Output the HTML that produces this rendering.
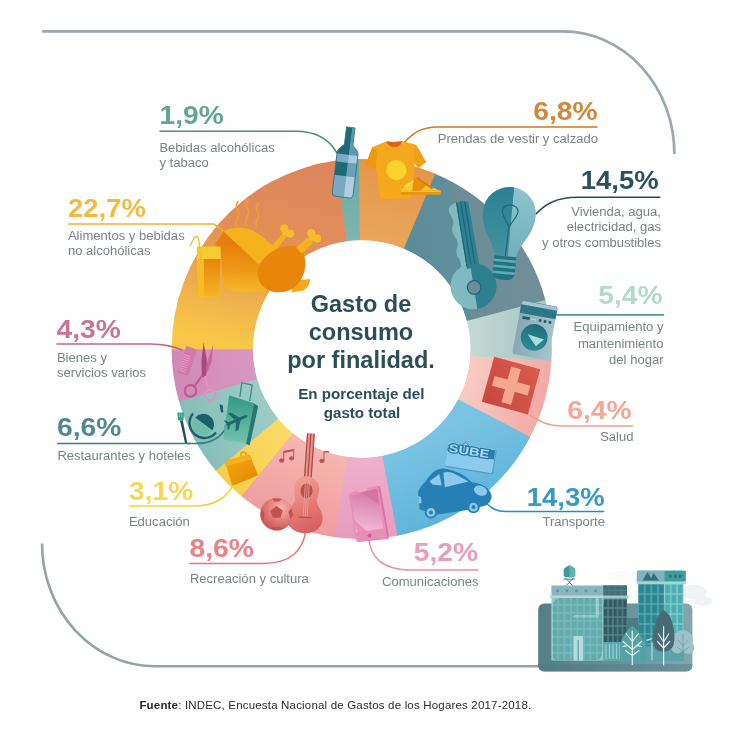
<!DOCTYPE html>
<html lang="es">
<head>
<meta charset="utf-8">
<title>Gasto de consumo por finalidad</title>
<style>
html,body{margin:0;padding:0;background:#fff;}
body{width:730px;height:730px;overflow:hidden;font-family:"Liberation Sans",Arial,sans-serif;}
svg{display:block;}
.num{font-family:"Liberation Sans",Arial,sans-serif;font-weight:700;font-size:26.600px;}
.lbl{font-family:"Liberation Sans",Arial,sans-serif;font-weight:400;font-size:13.05px;fill:#7b8386;}
.ttl{font-family:"Liberation Sans",Arial,sans-serif;font-weight:700;font-size:23.5px;fill:#2b4f56;}
.sub{font-family:"Liberation Sans",Arial,sans-serif;font-weight:700;font-size:15.150px;fill:#2b4f56;}
.src{font-family:"Liberation Sans",Arial,sans-serif;font-size:11.5px;fill:#2a2a2a;}
.ln{fill:none;stroke-width:1.6;stroke-linecap:round;}
</style>
</head>
<body>
<svg width="730" height="730" viewBox="0 0 730 730">
<defs>
<linearGradient id="g_s227" gradientUnits="userSpaceOnUse" x1="300" y1="160" x2="255" y2="349"><stop offset="0" stop-color="#dd845d"/><stop offset="0.42" stop-color="#e28f57"/><stop offset="0.72" stop-color="#eeab4d"/><stop offset="1" stop-color="#f8c848"/></linearGradient>
<linearGradient id="g_s19" gradientUnits="userSpaceOnUse" x1="350" y1="160" x2="352" y2="240"><stop offset="0" stop-color="#6aa9a1"/><stop offset="1" stop-color="#7fb6ad"/></linearGradient>
<linearGradient id="g_s68" gradientUnits="userSpaceOnUse" x1="400" y1="160" x2="380" y2="245"><stop offset="0" stop-color="#e3954a"/><stop offset="1" stop-color="#eaa65c"/></linearGradient>
<linearGradient id="g_s145" gradientUnits="userSpaceOnUse" x1="409.600" y1="252.900" x2="508.400" y2="237.100"><stop offset="0" stop-color="#5b8c99"/><stop offset="0.480" stop-color="#5f8f9b"/><stop offset="0.520" stop-color="#6c8d96"/><stop offset="1" stop-color="#6f8e96"/></linearGradient>
<linearGradient id="g_s54" gradientUnits="userSpaceOnUse" x1="470" y1="330" x2="552" y2="330"><stop offset="0" stop-color="#c3d9d5"/><stop offset="1" stop-color="#a3c4c1"/></linearGradient>
<linearGradient id="g_s64" gradientUnits="userSpaceOnUse" x1="465" y1="380" x2="545" y2="400"><stop offset="0" stop-color="#f8cbc3"/><stop offset="1" stop-color="#f2aaa4"/></linearGradient>
<linearGradient id="g_s143" gradientUnits="userSpaceOnUse" x1="430" y1="430" x2="470" y2="520"><stop offset="0" stop-color="#7cc4e3"/><stop offset="1" stop-color="#5cb2da"/></linearGradient>
<linearGradient id="g_s52" gradientUnits="userSpaceOnUse" x1="362" y1="458" x2="362" y2="540"><stop offset="0" stop-color="#eeb0cb"/><stop offset="1" stop-color="#e79bbd"/></linearGradient>
<linearGradient id="g_s86" gradientUnits="userSpaceOnUse" x1="320" y1="450" x2="290" y2="530"><stop offset="0" stop-color="#f5b6b0"/><stop offset="1" stop-color="#ee9a9c"/></linearGradient>
<linearGradient id="g_s31" gradientUnits="userSpaceOnUse" x1="280" y1="420" x2="225" y2="480"><stop offset="0" stop-color="#fadb66"/><stop offset="1" stop-color="#f6cf4c"/></linearGradient>
<linearGradient id="g_s66" gradientUnits="userSpaceOnUse" x1="260" y1="400" x2="185" y2="430"><stop offset="0" stop-color="#9ccbc6"/><stop offset="1" stop-color="#84bdb8"/></linearGradient>
<linearGradient id="g_s43" gradientUnits="userSpaceOnUse" x1="255" y1="365" x2="172" y2="375"><stop offset="0" stop-color="#d897be"/><stop offset="1" stop-color="#d08ab5"/></linearGradient>
</defs>
<rect width="730" height="730" fill="#fff"/>
<!-- frame -->
<path d="M42.200 31.400H563A111.400 122.600 0 0 1 674.400 154" fill="none" stroke="#9ca8af" stroke-width="2.700"/>
<path d="M42 543.5A113 123 0 0 0 155 666.300H545" fill="none" stroke="#96a3a5" stroke-width="2.600"/>
<!-- donut -->
<g>
<path class="s68" fill="url(#g_s68)" d="M357.88 158.94A190.1 190.1 0 0 1 436.13 174.08L404.28 248.93A108.75 108.75 0 0 0 359.52 240.27Z"/>
<path class="s145" fill="url(#g_s145)" d="M435.21 173.69A190.1 190.1 0 0 1 545.62 300.92L466.91 321.50A108.75 108.75 0 0 0 403.75 248.71Z"/>
<path class="s54" fill="url(#g_s54)" d="M545.37 299.96A190.1 190.1 0 0 1 551.35 362.10L470.19 356.49A108.75 108.75 0 0 0 466.77 320.95Z"/>
<path class="s64" fill="url(#g_s64)" d="M551.41 361.10A190.1 190.1 0 0 1 529.78 437.81L457.85 399.80A108.75 108.75 0 0 0 470.23 355.92Z"/>
<path class="s143" fill="url(#g_s143)" d="M530.24 436.93A190.1 190.1 0 0 1 396.51 535.89L381.61 455.91A108.75 108.75 0 0 0 458.12 399.30Z"/>
<path class="s52" fill="url(#g_s52)" d="M397.48 535.70A190.1 190.1 0 0 1 334.09 537.08L345.91 456.60A108.75 108.75 0 0 0 382.17 455.81Z"/>
<path class="s86" fill="url(#g_s86)" d="M335.08 537.23A190.1 190.1 0 0 1 240.65 495.58L292.45 432.85A108.75 108.75 0 0 0 346.47 456.68Z"/>
<path class="s31" fill="url(#g_s31)" d="M241.42 496.21A190.1 190.1 0 0 1 215.12 470.05L277.85 418.25A108.75 108.75 0 0 0 292.89 433.22Z"/>
<path class="s66" fill="url(#g_s66)" d="M215.76 470.81A190.1 190.1 0 0 1 178.74 400.60L257.03 378.52A108.75 108.75 0 0 0 278.21 418.68Z"/>
<path class="s43" fill="url(#g_s43)" d="M179.01 401.56A190.1 190.1 0 0 1 171.60 348.50L252.95 348.72A108.75 108.75 0 0 0 257.19 379.07Z"/>
<path class="s227" fill="url(#g_s227)" d="M171.60 349.50A190.1 190.1 0 0 1 336.39 160.59L347.22 241.22A108.75 108.75 0 0 0 252.95 349.28Z"/>
<path class="s19" fill="url(#g_s19)" d="M335.41 160.73A190.1 190.1 0 0 1 358.88 158.92L360.09 240.26A108.75 108.75 0 0 0 346.66 241.30Z"/>
</g>
<circle cx="361.700" cy="349" r="108.500" fill="#fff"/>
<!-- connector lines -->
<path class="ln" stroke="#42907f" d="M160 131.300H296C316 131.300 329 139 337 153"/>
<path class="ln" stroke="#efb32b" d="M68.500 224H214L223 231"/>
<path class="ln" stroke="#c2648e" d="M57 344H150C166 344 174 347 182 350"/>
<path class="ln" stroke="#3a7d84" d="M58 443.500H190" stroke-width="1.800"/><path class="ln" stroke="#3a7d84" d="M188 443.500H196C212 443.500 221 437 226 428" stroke-width="1.100"/>
<path class="ln" stroke="#f2d43c" d="M129.5 506H195C215 506 226 498 233 485.500"/>
<path class="ln" stroke="#e8737a" d="M190 563.5H262C292 563.5 303 550 306 530"/>
<path class="ln" stroke="#e592b4" d="M478 570H412C381 570 371 557 368.500 538"/>
<path class="ln" stroke="#1f8fc1" d="M603.5 511.5H506C496 511.5 491.500 508 486.500 503.500"/>
<path class="ln" stroke="#f0a08a" d="M632.500 426H562C548 426 540 421.500 530.500 415.500"/>
<path class="ln" stroke="#4d9b8c" d="M663.500 314.900H556" stroke-width="1.800"/>
<path class="ln" stroke="#1f4e5a" d="M659.800 197.300H578C556 197.300 545 204 536 214"/>
<path class="ln" stroke="#d07822" d="M597 127H438C420 127 412 134 404 143"/>
<!-- ===== bottle ===== -->
<g transform="translate(350.8,127.4) rotate(7)">
  <clipPath id="cpBottle"><path d="M-4.3 0H4.3V16.5C4.3 20 10.5 20.5 10.5 27V66.5Q10.5 70.2 7 70.2H-7Q-10.5 70.2 -10.5 66.5V27C-10.5 20.5 -4.3 20 -4.3 16.5Z"/></clipPath>
  <g clip-path="url(#cpBottle)">
    <rect x="-11" y="-1" width="13" height="72" fill="#1f6a78"/>
    <rect x="1.5" y="-1" width="10" height="72" fill="#5d9bb0"/>
    <rect x="-11" y="27.5" width="13" height="8" fill="#7eaac4"/>
    <rect x="1.5" y="27.5" width="10" height="8" fill="#a9cbe0"/>
    <rect x="1.5" y="35.5" width="10" height="13.5" fill="#6d9fb6"/>
    <rect x="-11" y="49" width="13" height="22" fill="#7ba9c4"/>
    <rect x="1.5" y="49" width="10" height="22" fill="#b0cce0"/>
  </g>
  <path d="M-4.3 0H4.3V16.5C4.3 20 10.5 20.5 10.5 27V66.5Q10.5 70.2 7 70.2H-7Q-10.5 70.2 -10.5 66.5V27C-10.5 20.5 -4.3 20 -4.3 16.5Z" fill="none" stroke="#2a7383" stroke-width="0.8"/>
</g>
<!-- ===== t-shirt + sandals ===== -->
<g>
  <path d="M386.5 141.3Q394 143 402 140.9L416.1 144.8L426 162L418 168.2L414.9 163L410.6 198.4L380.3 199L376 167.5L374.8 169.8L365.5 165.1L372.3 147.3Z" fill="#f5a81c"/>
  <path d="M372.3 147.3L365.5 165.1L374.8 169.8L376 167.5L377.2 150Z" fill="#ee9812"/>
  <path d="M416.1 144.8L426 162L418 168.2L414.9 163L413.6 149Z" fill="#f0a016"/>
  <path d="M386.5 141.3Q394 143 402 140.9Q400.5 147 394.3 147Q388 147 386.5 141.3Z" fill="#d8621c"/>
  <circle cx="396.4" cy="170.1" r="10.2" fill="#fbd22f"/>
  <!-- sandals -->
  <path d="M401 190.800H440.600Q441.600 192.800 440.400 194.800H401.300Q400.200 192.800 401 190.800Z" fill="#e8960f"/>
  <path d="M401 190.600H440.600V192H401Z" fill="#f8c224"/>
  <path d="M401 190.600L404.800 185.300L413.800 179.700L417.500 181.500L412.300 190.600Z" fill="#f9ca2c"/>
  <path d="M404.800 185.300L413.800 179.700L415.500 180.600L407 187.500Z" fill="#fbd94d"/>
  <path d="M413.800 179.300L417.800 177.200L427.200 184.600L420.500 190.600H412.300Z" fill="#e8900c"/>
  <path d="M420.600 190.600L426.900 185.100L439.800 190.600Z" fill="#f8c424"/>
  <path d="M417.800 177.200L433.500 188.400L431.500 189.200L416.500 178.200Z" fill="#d67d0a"/>
</g>
<!-- ===== chicken + juice ===== -->
<defs>
<linearGradient id="gChk" gradientUnits="userSpaceOnUse" x1="240" y1="245" x2="238" y2="292"><stop offset="0" stop-color="#e57f0c"/><stop offset="0.55" stop-color="#ee9a14"/><stop offset="1" stop-color="#f7b92a"/></linearGradient>
<linearGradient id="gJuice" gradientUnits="userSpaceOnUse" x1="210" y1="259" x2="210" y2="296"><stop offset="0" stop-color="#e4860e"/><stop offset="1" stop-color="#f6b424"/></linearGradient>
</defs>
<g>
  <!-- steam -->
  <g fill="none" stroke="#f0a028" stroke-width="1.700" stroke-linecap="round">
    <path d="M238 201.5q-3 4 -0.5 8t0 8t-1 8"/>
    <path d="M248 200q-3 4 -0.5 8t0 8t-1 8.5"/>
    <path d="M258 204q-3 4 -0.5 7.500t0 7.500t-1 7.500"/>
  </g>
  <!-- back drumstick -->
  <path d="M270.5 247L282.500 233.500L286.500 237L276 250Z" fill="#f6b21c"/>
  <circle cx="284.300" cy="228.400" r="4.100" fill="#f8bc28"/><circle cx="290" cy="233.600" r="4.100" fill="#f8bc28"/><circle cx="286" cy="232.500" r="3.600" fill="#f8bc28"/>
  <!-- body -->
  <path d="M214.900 244.700L223.600 231.200L259 263L266 291.600L243.700 291.600Q229 291.500 223 285.500L220.700 248Z" fill="url(#gChk)"/>
  <path d="M223.600 231.200Q244 221.500 262.900 237L277 250L258.300 264.200Z" fill="#f6b21c"/>
  <!-- tail -->
  <path d="M292.100 280.800L310.200 279.100Q309.500 287 303.600 290.600L292 292.500Z" fill="#f5a81a"/>
  <!-- thigh -->
  <path d="M301 248.200C310.500 262 304 292 279.500 292.300C261 292.500 253 276 260.500 263C268.500 249.500 289 241.500 301 248.200Z" fill="#e8860c"/>
  <!-- front drumstick -->
  <path d="M296 247.500L308 237.500L313 243L301.500 253.500Z" fill="#f6b21c"/>
  <circle cx="311.300" cy="233" r="4.100" fill="#f8bc28"/><circle cx="317" cy="238.500" r="4.100" fill="#f8bc28"/><circle cx="312.500" cy="238" r="3.600" fill="#f8bc28"/>
  <!-- glass -->
  <path d="M196.700 246.600H220.700L219.600 296.400H198.300Z" fill="#f9cb30"/>
  <path d="M203.500 259H220.400L219.600 296.400H204Z" fill="url(#gJuice)"/>
  <path d="M197.200 259H203.500L204 296.400H198.300Z" fill="#f7bd22"/>
  <path d="M201 262L198.800 240Q197.600 233.500 194 238.500L190 246" fill="none" stroke="#f5b830" stroke-width="1.300" stroke-linecap="round"/>
</g>
<!-- ===== key + bulb ===== -->
<defs>
<linearGradient id="gBulbL" x1="0" y1="0" x2="0" y2="1"><stop offset="0" stop-color="#2a8091"/><stop offset="1" stop-color="#4592a0"/></linearGradient>
<linearGradient id="gBulbR" x1="0" y1="0" x2="0" y2="1"><stop offset="0" stop-color="#8fc3cc"/><stop offset="1" stop-color="#6fb0ba"/></linearGradient>
<clipPath id="cpBulb"><path d="M-11 43C-11 31 -26.500 21 -26.500 0A26.500 26.500 0 1 1 26.500 0C26.500 21 11 31 11 43Z"/></clipPath>
<clipPath id="cpKey"><path fill-rule="evenodd" clip-rule="evenodd" d="M-6 -84.500Q1 -87 8.300 -84L9 -21A23 23 0 1 1 -9 -21L-9.300 -28Q-13.500 -34 -10 -41Q-7.500 -46 -10.300 -51Q-14 -57 -10.600 -63.500Q-8.300 -68 -10.800 -72.500Q-13.800 -78 -11 -81.500Q-9.500 -83.500 -6 -84.500ZM0.300 -5.300A6.800 6.800 0 1 0 0.300 8.300A6.800 6.800 0 1 0 0.300 -5.300Z"/></clipPath>
</defs>
<g transform="translate(473.600,286) rotate(-9.300)">
  <g clip-path="url(#cpKey)">
    <rect x="-26" y="-90" width="26" height="116" fill="#7fbac3"/>
    <rect x="-3.800" y="-90" width="32" height="116" fill="#2e8090"/>
    <rect x="-26" y="-18" width="26" height="45" fill="#7fbac3"/>
    <path d="M-3.300 -86V-20M0.800 -86V-22M4.800 -86V-22" stroke="#1c6574" stroke-width="1.200" fill="none"/>
  </g>
  <circle cx="0.300" cy="1.500" r="6.800" fill="none" stroke="#1f6a78" stroke-width="1.300"/>
</g>
<g transform="translate(509.300,213.500) rotate(5.300)">
  <g clip-path="url(#cpBulb)">
    <rect x="-27" y="-27" width="30" height="71" fill="url(#gBulbL)"/>
    <rect x="2.500" y="-27" width="25" height="71" fill="url(#gBulbR)"/>
  </g>
  <path d="M0 42.500L0.800 13C-3.500 6 -7 1.500 -7 -2C-7 -6.500 -3.500 -8.500 0.800 -8.500C5.100 -8.500 8.500 -6.500 8.500 -2C8.500 1.500 5.100 6 0.800 13" fill="none" stroke="#1f6a78" stroke-width="1.200"/>
  <path d="M-11 43H11V59Q11 66.500 3 66.500H-3Q-11 66.500 -11 59Z" fill="#1f7383"/>
  <path d="M-11 47.500H11M-11 53.500H11M-11 59.500H11" stroke="#62aab3" stroke-width="2.600" fill="none"/>
</g>
<!-- ===== health cross ===== -->
<defs>
<linearGradient id="gCross" x1="1" y1="0" x2="0" y2="1"><stop offset="0" stop-color="#d95c4e"/><stop offset="1" stop-color="#c7473f"/></linearGradient>
<linearGradient id="gWash" x1="0" y1="0" x2="1" y2="0"><stop offset="0" stop-color="#86a9b6"/><stop offset="1" stop-color="#a6c2cb"/></linearGradient>
</defs>
<g transform="translate(494.200,356.700) rotate(15.300)">
  <rect x="0" y="0" width="47.700" height="46.800" fill="url(#gCross)"/>
  <path d="M19 5H29V18.500H42.500V28.500H29V42H19V28.500H5.500V18.500H19Z" fill="#f4a78f"/>
</g>
<!-- ===== washing machine ===== -->
<defs><linearGradient id="gDoor" x1="0" y1="0" x2="0" y2="1"><stop offset="0" stop-color="#1d6f7c"/><stop offset="1" stop-color="#2f8a94"/></linearGradient></defs>
<g transform="translate(522,300.300) rotate(10.500)">
  <rect x="0" y="0" width="36.400" height="54.300" rx="2.600" fill="url(#gWash)"/>
  <path d="M0 12.600V2.600Q0 0 2.600 0H33.800Q36.400 0 36.400 2.600V12.600Z" fill="#2c7785"/>
  <path d="M0.300 4V2.600Q0.300 0.300 2.600 0.300H33.800Q36.100 0.300 36.100 2.600V4Z" fill="#a9c5cd"/>
  <rect x="3.500" y="15.200" width="7.500" height="2.800" fill="#1d5f6c"/>
  <rect x="12.500" y="16.200" width="5" height="1" fill="#c5d9de"/>
  <circle cx="21.500" cy="16.600" r="1.500" fill="#1d5f6c"/><circle cx="26.500" cy="16.600" r="1.500" fill="#1d5f6c"/><circle cx="31.500" cy="16.600" r="1.500" fill="#1d5f6c"/>
  <circle cx="18.700" cy="34.300" r="13.400" fill="url(#gDoor)"/>
  <path d="M11.700 32.400L28.800 34.600L22 42.600Z" fill="#a9dcdc"/>
</g>
<!-- ===== SUBE card + car ===== -->
<g transform="translate(448.600,441.500) rotate(9.200)">
  <rect x="0" y="0" width="49" height="25.500" rx="1.800" fill="#4d9fcb"/>
  <rect x="0" y="0" width="47.800" height="24.300" rx="1.500" fill="#8ccbeb"/>
  <rect x="41.500" y="1.200" width="6" height="9.300" fill="#2d7dad"/>
  <text x="1.200" y="10" font-family="'Liberation Sans',Arial,sans-serif" font-weight="700" font-size="11.200" textLength="41" lengthAdjust="spacingAndGlyphs" fill="#a9dbf2" stroke="#2a78a8" stroke-width="2.600" paint-order="stroke" stroke-linejoin="round">SUBE</text>
  <path d="M14 1.300L17.300 -2L20.600 1.300Z" fill="#a9dbf2" stroke="#2a78a8" stroke-width="0.700"/>
</g>
<g>
  <path d="M419.700 509.600L418.100 492.300Q419.500 487 424.700 482.500Q429 476 432.900 472.600Q437 469 442.700 468.500Q448 468.500 454.200 471Q461 473.500 465.800 476.700L472.300 482.500Q478 483 482.200 484.900Q488.500 487.500 490.400 492.300Q492.200 496 491.200 498.900Q489.500 503.500 485.500 505.500L470.700 509.600L437.800 514.500Z" fill="#2780b5"/>
  <path d="M429.600 481.200L439.300 474L441.700 485.600L432.500 484.500Z" fill="#8ccaea"/>
  <path d="M443.400 472.400Q449 471.500 454.200 473.400L468.500 481.400L444.800 487.200Z" fill="#8ccaea"/>
  <ellipse cx="480.500" cy="490.700" rx="6.800" ry="4.800" transform="rotate(22 480.500 490.700)" fill="#8ccaea"/>
  <path d="M418.400 496L421 497L421.500 503L419 503.500Z" fill="#8ccaea"/>
  <circle cx="430.900" cy="512.400" r="6.200" fill="#2780b5"/><circle cx="430.900" cy="512.400" r="4.300" fill="#8ccaea"/><circle cx="430.900" cy="512.400" r="2" fill="#2780b5"/>
  <circle cx="473.500" cy="507.100" r="6.200" fill="#2780b5"/><circle cx="473.500" cy="507.100" r="4.300" fill="#8ccaea"/><circle cx="473.500" cy="507.100" r="2" fill="#2780b5"/>
</g>
<!-- ===== guitar, ball, notes ===== -->
<defs>
<linearGradient id="gGuitar" gradientUnits="userSpaceOnUse" x1="-14" y1="-30" x2="14" y2="14"><stop offset="0" stop-color="#f09a90"/><stop offset="0.5" stop-color="#e47a74"/><stop offset="1" stop-color="#d25c5e"/></linearGradient>
<radialGradient id="gBall" gradientUnits="userSpaceOnUse" cx="281" cy="508" r="22"><stop offset="0" stop-color="#f6b9b0"/><stop offset="0.5" stop-color="#e58680"/><stop offset="1" stop-color="#cf5a5c"/></radialGradient>
</defs>
<g fill="#b9535b">
  <path d="M283.300 451L294.200 448.700V458.500A2.600 2.100 0 1 1 293.200 456.800V451.200L284.300 453.100V460.600A2.600 2.100 0 1 1 283.300 458.900Z"/>
  <path d="M323.500 451.500Q326.500 450 329.300 451.500V453Q326.500 451.700 324.500 453V461A2.600 2.100 0 1 1 323.500 459.300Z"/>
</g>
<g transform="translate(304.800,516.300) rotate(4)">
  <path d="M-3.600 -83H4.200V-38H-3.600Z" fill="#ea938b"/>
  <path d="M-3 -83V-38M0.300 -83V-38M3.600 -83V-38" stroke="#b04a4c" stroke-width="1.300" fill="none"/>
  <path d="M0 -40C8 -40 12.500 -34 12.500 -27.500C12.500 -20 9.500 -17.500 12 -12.500C14 -8.500 18 -5 18 2C18 11 10 17 0 17C-10 17 -18 11 -18 2C-18 -5 -14 -8.500 -12 -12.500C-9.500 -17.500 -12.500 -20 -12.500 -27.500C-12.500 -34 -8 -40 0 -40Z" fill="url(#gGuitar)"/>
  <ellipse cx="0" cy="-25.500" rx="6" ry="7.500" fill="#b9504f"/>
  <path d="M-1.700 -40V1M0.300 -40V1M2.300 -40V1" stroke="#f0a69c" stroke-width="0.700" fill="none"/>
  <path d="M-6.500 1H7" stroke="#b9504f" stroke-width="1.400" fill="none"/>
</g>
<g>
  <circle cx="276.700" cy="514.200" r="16.400" fill="url(#gBall)"/>
  <path d="M276.500 506L282.800 510.500L280.400 517.800H272.800L270.300 510.500Z" fill="#c8504f"/>
  <path d="M272 498.600L281.500 498.700L279 501.500H274.500Z" fill="#c8504f"/>
  <path d="M291.500 508L293 515.500L290.500 519L288.500 512Z" fill="#c8504f"/>
  <path d="M261.500 508.500L260.400 516L263.500 520.500L264.500 513Z" fill="#c8504f"/>
  <path d="M270 527L283 527.500L279.500 530.300H273.500Z" fill="#c8504f"/>
</g>
<!-- ===== phone ===== -->
<defs>
<linearGradient id="gPhone" gradientUnits="userSpaceOnUse" x1="372" y1="490" x2="364" y2="533"><stop offset="0" stop-color="#d676a8"/><stop offset="0.55" stop-color="#e79dc2"/><stop offset="1" stop-color="#f2bcd6"/></linearGradient>
</defs>
<g>
  <path d="M352.500 495.200L378.300 488.300L386.700 536.800L359.300 539.600Z" fill="#d673a7" stroke="#d673a7" stroke-width="4.400" stroke-linejoin="round"/>
  <path d="M350.900 495.200L376.300 487.900L385 536.600L358.300 539.600Z" fill="#e88fb8" stroke="#e88fb8" stroke-width="4.400" stroke-linejoin="round"/>
  <path d="M351.400 495.500L377 488.800L383.200 528.500L356 532.500Z" fill="url(#gPhone)"/>
  <path d="M362 492.700L377 488.800L379.500 505Z" fill="#cf6ba0" opacity="0.550"/>
  <path d="M353.500 519.500L368 532L358 534Z" fill="#e58ab5" opacity="0.800"/>
  <circle cx="369.500" cy="535.600" r="2" fill="#cc5c98"/>
  <path d="M359 491.300L367 489.100" stroke="#f3bdd6" stroke-width="0.900" stroke-linecap="round" fill="none"/>
</g>
<!-- ===== comb + scissors ===== -->
<g>
  <path d="M186.400 345.700L197.100 349.800L188.100 376.100L177.400 372.800Z" fill="#d27aab"/>
  <path d="M180 365.500l7 2.300M180.700 363.300l7 2.300M181.400 361.100l7 2.300M182.100 358.900l7 2.300M182.800 356.700l7 2.300M183.500 354.500l7 2.300M179.300 367.700l7 2.300M178.600 369.900l7 2.300" stroke="#e7a6cc" stroke-width="0.800" fill="none"/>
  <path d="M213.300 344.700L211.500 362L204.500 378.500L201.500 376L208 360Z" fill="#c968a0"/>
  <path d="M203.600 342.200L206.800 360L205.800 377L201.800 377L201.500 360Z" fill="#a8487c"/>
  <path d="M202.500 375L195 385.500" stroke="#c0588c" stroke-width="2" fill="none"/>
  <path d="M204.800 376L208.500 388.500" stroke="#e590bc" stroke-width="2" fill="none"/>
  <circle cx="190.500" cy="390.900" r="5.800" fill="none" stroke="#c0588c" stroke-width="2.100"/>
  <circle cx="210.300" cy="395" r="5.400" fill="none" stroke="#e590bc" stroke-width="2.100"/>
</g>
<!-- ===== plate, fork, knife ===== -->
<g>
  <path d="M177.400 412.500H184L183.500 420.500H178Z" fill="#3a9a8a"/>
  <path d="M179.500 412.500V417M181.700 412.500V417" stroke="#9ccbc6" stroke-width="0.700"/>
  <path d="M180 420.500L182.800 420.500L187.300 443L185 443Z" fill="#1f4f58"/>
  <circle cx="203.200" cy="424.800" r="10.800" fill="#6fbcaa"/>
  <path d="M195.200 417.500A10.800 10.800 0 0 1 212.500 430.300Z" fill="#1f5f68"/>
  <path d="M193 413.500A14 14 0 1 0 216 432.500" fill="none" stroke="#1f5f68" stroke-width="2.400"/>
  <path d="M219.500 404L222.800 405.500L223.300 412.300L221 412.500Z" fill="#1f5f68"/>
  <path d="M224.500 425.500L227 426L227.700 435.300L225.800 435.500Z" fill="#1f5f68"/>
</g>
<!-- ===== suitcase ===== -->
<defs><linearGradient id="gSuit" gradientUnits="userSpaceOnUse" x1="236" y1="397" x2="236" y2="442"><stop offset="0" stop-color="#359a84"/><stop offset="1" stop-color="#72c2ac"/></linearGradient></defs>
<g>
  <path d="M239.900 397L241.800 382.700L252.200 385.100L249.700 401" fill="none" stroke="#3a8a88" stroke-width="1.300"/>
  <path d="M253 404L257.100 406.500L248.900 444.300L245.600 441.900Z" fill="#28786f" stroke="#28786f" stroke-width="2" stroke-linejoin="round"/>
  <path d="M230 396.600L253 404L245.600 441.900L224.200 438.600Z" fill="url(#gSuit)" stroke="url(#gSuit)" stroke-width="2" stroke-linejoin="round"/>
  <g fill="#1f6a68" transform="translate(236.800,420.300) rotate(-23.700)">
    <path d="M-11.500 0Q-11.500 -1.500 -9 -1.500H7Q11 -1.300 12 0Q11 1.300 7 1.500H-9Q-11.500 1.500 -11.500 0Z"/>
    <path d="M4 -1L-2.500 -9.500H-5.500L-1.500 -1Z"/>
    <path d="M4 1L-2.500 9.500H-5.500L-1.500 1Z"/>
    <path d="M-7.500 -1L-10.500 -4.800H-12.300L-10.500 -1Z"/>
    <path d="M-7.500 1L-10.500 4.800H-12.300L-10.500 1Z"/>
  </g>
</g>
<!-- ===== education bag ===== -->
<defs><linearGradient id="gEdu" gradientUnits="userSpaceOnUse" x1="232" y1="460" x2="250" y2="482"><stop offset="0" stop-color="#f3a50e"/><stop offset="1" stop-color="#e68a06"/></linearGradient></defs>
<g>
  <path d="M241 456.500Q240.500 452 243.500 452Q246.300 452.200 246 455.500" fill="none" stroke="#ee9a0c" stroke-width="1.400"/>
  <path d="M225.300 461.400L249.300 455.300L257.300 475L232.700 484.900Z" fill="url(#gEdu)" stroke="url(#gEdu)" stroke-width="1.200" stroke-linejoin="round"/>
  <path d="M225.300 461.400L249.300 455.300L251 459.500L226.900 465.700Z" fill="#f6b020"/>
</g>
<!-- ===== city illustration ===== -->
<defs>
<linearGradient id="gBase" x1="0" y1="0" x2="1" y2="0"><stop offset="0" stop-color="#547f87"/><stop offset="0.5" stop-color="#688f97"/><stop offset="1" stop-color="#84a7ad"/></linearGradient>
<pattern id="pWinA" width="6.500" height="8" patternUnits="userSpaceOnUse" x="551.400" y="597"><rect width="6.500" height="8" fill="#a6d4d6"/><rect x="0.700" y="0.700" width="5.100" height="6.600" fill="#8cc5c8"/></pattern>
<pattern id="pWinA2" width="6.500" height="8" patternUnits="userSpaceOnUse" x="551.400" y="597"><rect width="6.500" height="8" fill="#7bbabd"/><rect x="0.700" y="0.700" width="5.100" height="6.600" fill="#62abae"/></pattern>
<pattern id="pWinB" width="4.800" height="9" patternUnits="userSpaceOnUse" x="603.200" y="599"><rect width="4.800" height="9" fill="#5d8890"/><rect x="0.600" y="0.600" width="3.600" height="7.800" fill="#2f5b63"/></pattern>
<pattern id="pWinC" width="6.600" height="10" patternUnits="userSpaceOnUse" x="638.100" y="584"><rect width="6.600" height="10" fill="#5fb0b4"/><rect x="0.600" y="0.600" width="5.400" height="8.800" fill="#2d8790"/></pattern>
<pattern id="pWinD" width="6.300" height="10" patternUnits="userSpaceOnUse" x="664.400" y="584"><rect width="6.300" height="10" fill="#8ad0d0"/><rect x="0.600" y="0.600" width="5.100" height="8.800" fill="#4cafb0"/></pattern>
<clipPath id="cpSix"><path d="M553 657V607Q553 597 563 597H595.500V615H576Q572 615 572 620V634H584.500V660.500H561Q553 660.500 553 657ZM584.500 660.500V634H572V617.500H599V597H602.300V650Q602.300 660.500 594 660.500Z"/></clipPath>
</defs>
<g>
  <ellipse cx="694" cy="592" rx="13" ry="7" fill="#f0f3f4"/><ellipse cx="703" cy="601" rx="9" ry="5" fill="#f0f3f4"/><ellipse cx="650" cy="580" rx="16" ry="6" fill="#f5f7f8"/><ellipse cx="620" cy="576" rx="14" ry="5" fill="#fafbfb"/>
  <rect x="538.200" y="603.600" width="154.200" height="68" rx="6" fill="url(#gBase)"/>
  <path d="M538.200 664H692.400V665.600Q692.400 671.600 686.400 671.600H544.200Q538.200 671.600 538.200 665.600Z" fill="#4f7a83" opacity="0.450"/>
  <!-- right tall building -->
  <rect x="638.100" y="570.700" width="26.300" height="90" fill="url(#pWinC)"/>
  <rect x="664.400" y="570.700" width="19" height="90" fill="url(#pWinD)"/>
  <rect x="636.800" y="570.700" width="27.600" height="11" fill="#7fb2ba"/>
  <rect x="664.400" y="570.700" width="21.400" height="11" fill="#3f9a9a"/>
  <rect x="636.800" y="581.400" width="49" height="2.600" fill="#9fd6d8"/>
  <path d="M642.500 580.500L647.500 572L652.500 580.500ZM650 580.500L653.500 573L659 580.500Z" fill="#2f6f7a"/>
  <rect x="669" y="574.800" width="2.400" height="2.800" fill="#256f74"/><rect x="674" y="574.800" width="2.400" height="2.800" fill="#256f74"/><rect x="679" y="574.800" width="2.400" height="2.800" fill="#256f74"/>
  <!-- middle dark building -->
  <rect x="603.200" y="585.500" width="23.800" height="57" fill="url(#pWinB)"/>
  <rect x="603.200" y="585.500" width="23.800" height="10" fill="#436f78"/>
  <path d="M603.200 590.500H627M609 585.500V595.500M615 585.500V595.500M621 585.500V595.500" stroke="#5d8890" stroke-width="0.600" fill="none"/>
  <rect x="603.200" y="595.500" width="25.500" height="3" fill="#a2c9cf"/>
  <rect x="627" y="618" width="11.500" height="25" fill="#4d7b84"/>
  <!-- hedge / low teal -->
  <path d="M603.200 642H638V661H603.200Z" fill="#5fa9ad"/>
  <path d="M606 644V659M609.500 644V659M613 644V659M616.500 644V659M620 644V659" stroke="#93d0d2" stroke-width="1.200" fill="none"/>
  <path d="M638 661V650Q650 642 664 650L684 648V661Z" fill="#5ba3a8"/>
  <!-- left building -->
  <rect x="551.400" y="596" width="51.800" height="64.500" fill="url(#pWinA)"/>
  <g clip-path="url(#cpSix)"><rect x="551.400" y="596" width="51.800" height="65" fill="url(#pWinA2)"/></g>
  <rect x="573.500" y="636" width="9.500" height="24.500" fill="#b4dcde"/>
  <rect x="577.600" y="640" width="1.200" height="20.500" fill="#5aa3a7"/>
  <rect x="551.400" y="585.500" width="51.800" height="10.500" fill="#8cb5bd"/>
  <rect x="550" y="595.500" width="53.200" height="2.600" fill="#b7d8db"/>
  <circle cx="557.500" cy="590.700" r="1.500" fill="#5f98a6"/><circle cx="567" cy="590.700" r="1.500" fill="#5f98a6"/><circle cx="576.500" cy="590.700" r="1.500" fill="#5f98a6"/><circle cx="586" cy="590.700" r="1.500" fill="#5f98a6"/><circle cx="595.500" cy="590.700" r="1.500" fill="#5f98a6"/>
  <!-- water tank -->
  <path d="M563.700 570Q563.700 567.800 569.400 565.300Q575.200 567.800 575.200 570V575.300Q575.200 577.500 569.400 577.500Q563.700 577.500 563.700 575.300Z" fill="#3f9a98"/>
  <path d="M569.400 565.300Q575.200 567.800 575.200 570V575.300Q575.200 577.500 569.400 577.500Z" fill="#62b3b2"/>
  <path d="M565 577.500L572.500 585.500M573.800 577.500L566.300 585.500M563.500 579.200H575.300" stroke="#3a7a80" stroke-width="0.900" fill="none"/>
  <!-- trees -->
  <path d="M632.300 626Q640 631 645 644V661H620V644Q625 631 632.300 626Z" fill="#53a3a6"/>
  <path d="M632.300 664.500V631M632.300 641.500L626 633.500M632.300 641.500L638.600 633.500M632.300 649.500L623 641.500M632.300 649.500L641.600 641.500M632.300 655.500L625.500 650.500M632.300 655.500L639 650.500M627.500 645.300L623 646.500M637 645.300L641.600 646.500" stroke="#dff0f0" stroke-width="1.200" fill="none" stroke-linecap="round"/>
  <path d="M652 642.500V660.300" stroke="#a8d6d8" stroke-width="1.400" fill="none"/>
  <path d="M646.500 640.500L652 638.500" stroke="#a8d6d8" stroke-width="1.400" fill="none"/>
  <circle cx="683" cy="640" r="10" fill="#9cc2ca"/><circle cx="677.500" cy="647" r="6.500" fill="#9cc2ca"/><circle cx="688.500" cy="648" r="6" fill="#9cc2ca"/>
  <path d="M683 661V634M683 646L678 640M683 646L688 640M683 652L677 647M683 652L689 647" stroke="#6f9da6" stroke-width="0.800" fill="none"/>
  <path d="M663.600 610Q671 614 673.500 628Q676 642 672 648Q668 652 663.600 651.500Q658 652 655 648Q651.500 642 654.500 628Q657 614 663.600 610Z" fill="#496975"/>
  <path d="M663.600 665V626.500M663.600 642L658.500 634M663.600 642L668.700 634M663.600 648L657.500 641.500M663.600 648L669.700 641.500" stroke="#e6f1f2" stroke-width="1.200" fill="none" stroke-linecap="round"/>
</g>

<!-- numbers -->
<text class="num" textLength="64.300" lengthAdjust="spacingAndGlyphs" x="159.5" y="123.6" fill="#61a692">1,9%</text>
<text class="num" textLength="77.800" lengthAdjust="spacingAndGlyphs" x="68.0" y="216.6" fill="#f2bb3f">22,7%</text>
<text class="num" textLength="64.300" lengthAdjust="spacingAndGlyphs" x="56.5" y="337.6" fill="#c87499">4,3%</text>
<text class="num" textLength="64.300" lengthAdjust="spacingAndGlyphs" x="57.0" y="436.1" fill="#4e8a90">6,6%</text>
<text class="num" textLength="64.300" lengthAdjust="spacingAndGlyphs" x="129.0" y="500.1" fill="#f4d950">3,1%</text>
<text class="num" textLength="64.300" lengthAdjust="spacingAndGlyphs" x="189.5" y="556.500" fill="#ea8187">8,6%</text>
<text class="num" textLength="64.300" lengthAdjust="spacingAndGlyphs" x="478.1" y="560.600" fill="#e89dbc" text-anchor="end">5,2%</text>
<text class="num" textLength="77.800" lengthAdjust="spacingAndGlyphs" x="604.6" y="505.6" fill="#359ac7" text-anchor="end">14,3%</text>
<text class="num" textLength="64.300" lengthAdjust="spacingAndGlyphs" x="631.6" y="419.1" fill="#f2aa96" text-anchor="end">6,4%</text>
<text class="num" textLength="64.300" lengthAdjust="spacingAndGlyphs" x="662.6" y="304.1" fill="#b2dac8" text-anchor="end">5,4%</text>
<text class="num" textLength="77.800" lengthAdjust="spacingAndGlyphs" x="658.6" y="189.1" fill="#28535e" text-anchor="end">14,5%</text>
<text class="num" textLength="64.300" lengthAdjust="spacingAndGlyphs" x="597.6" y="120.1" fill="#d58638" text-anchor="end">6,8%</text>
<!-- labels -->
<text class="lbl" x="159.4" y="151.5">Bebidas alcohólicas</text>
<text class="lbl" x="159.4" y="167.0">y tabaco</text>
<text class="lbl" x="67.9" y="239.5">Alimentos y bebidas</text>
<text class="lbl" x="67.9" y="255.0">no alcohólicas</text>
<text class="lbl" x="56.9" y="361.5">Bienes y</text>
<text class="lbl" x="56.9" y="377.0">servicios varios</text>
<text class="lbl" x="57.4" y="459.5">Restaurantes y hoteles</text>
<text class="lbl" x="128.9" y="525.5">Educación</text>
<text class="lbl" x="189.9" y="583.0">Recreación y cultura</text>
<text class="lbl" x="478.5" y="586.200" text-anchor="end">Comunicaciones</text>
<text class="lbl" x="605.0" y="525.5" text-anchor="end">Transporte</text>
<text class="lbl" x="633.5" y="440.5" text-anchor="end">Salud</text>
<text class="lbl" x="663.5" y="331.0" text-anchor="end">Equipamiento y</text>
<text class="lbl" x="663.5" y="347.5" text-anchor="end">mantenimiento</text>
<text class="lbl" x="663.5" y="364.0" text-anchor="end">del hogar</text>
<text class="lbl" x="661.0" y="215.5" text-anchor="end">Vivienda, agua,</text>
<text class="lbl" x="661.0" y="231.0" text-anchor="end">electricidad, gas</text>
<text class="lbl" x="661.0" y="246.5" text-anchor="end">y otros combustibles</text>
<text class="lbl" x="598.0" y="143.0" text-anchor="end">Prendas de vestir y calzado</text>
<!-- centre title -->
<text class="ttl" x="361" y="311.500" text-anchor="middle">Gasto de</text>
<text class="ttl" x="361" y="340" text-anchor="middle">consumo</text>
<text class="ttl" x="361" y="368" text-anchor="middle">por finalidad.</text>
<text class="sub" x="361.300" y="399" text-anchor="middle">En porcentaje del</text>
<text class="sub" x="362" y="418" text-anchor="middle">gasto total</text>
<!-- source -->
<text class="src" x="139.400" y="708.800" textLength="391.800" lengthAdjust="spacing"><tspan font-weight="700">Fuente</tspan>: INDEC, Encuesta Nacional de Gastos de los Hogares 2017-2018.</text>
</svg>
</body>
</html>
